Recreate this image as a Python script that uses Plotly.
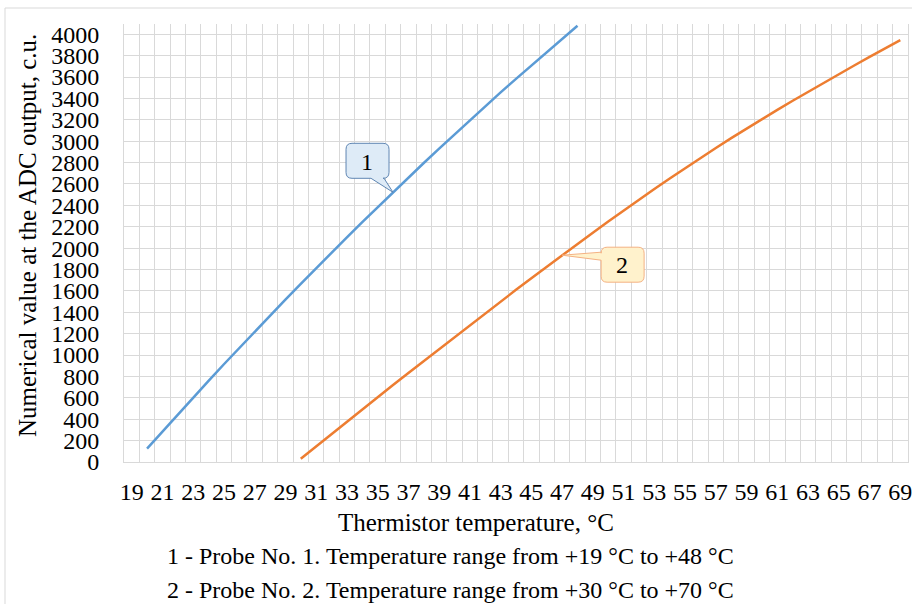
import plotly.graph_objects as go

# ---- data ----
temp_probe1 = list(range(20, 49))
adc_probe1 = [125, 286, 445, 602, 759, 914, 1067, 1219, 1370, 1519, 1666, 1813,
              1957, 2101, 2243, 2383, 2522, 2660, 2796, 2931, 3064, 3196, 3327,
              3456, 3583, 3709, 3834, 3957, 4079]
temp_probe2 = list(range(30, 70))
adc_probe2 = [31, 147, 263, 378, 492, 606, 720, 833, 945, 1057, 1169, 1280, 1390,
              1500, 1610, 1719, 1827, 1934, 2040, 2145, 2249, 2352, 2453, 2553,
              2652, 2749, 2844, 2937, 3029, 3119, 3207, 3293, 3378, 3462, 3545,
              3627, 3708, 3788, 3867, 3945]
categories = list(range(19, 70))
x_tick_labels = [str(c) for c in categories[::2]]
x_title = "Thermistor temperature, °C"
y_title = "Numerical value at the ADC output, c.u."
note_lines = ["1 - Probe No. 1. Temperature range from +19 °C to +48 °C",
              "2 - Probe No. 2. Temperature range from +30 °C to +70 °C"]

FONT = "Liberation Serif, Times New Roman, serif"
GRID = "#d9d9d9"
W, H = 912, 604
L, R, T, B = 124, 4, 24, 142
pw, ph = W - L - R, H - T - B


def px2paper(x, y):
    return (x - L) / pw, (H - B - y) / ph


fig = go.Figure()
fig.add_trace(go.Scatter(x=temp_probe1, y=adc_probe1, mode="lines",
                         line=dict(color="#5B9BD5", width=2.5), showlegend=False))
fig.add_trace(go.Scatter(x=temp_probe2, y=adc_probe2, mode="lines",
                         line=dict(color="#ED7D31", width=2.5), showlegend=False))

fig.update_xaxes(range=[categories[0] - 0.5, categories[-1] + 0.5],
                 tickmode="array", tickvals=categories[::2], ticktext=x_tick_labels,
                 showgrid=False, zeroline=False, ticks="", automargin=False,
                 showline=True, linecolor=GRID, linewidth=1,
                 ticklabelstandoff=8, ticklabeloverflow="allow",
                 minor=dict(tick0=categories[0] - 0.5, dtick=1, showgrid=True,
                            gridcolor=GRID, gridwidth=1),
                 tickfont=dict(family=FONT, size=24, color="black"))
fig.update_yaxes(range=[0, 4096], tickmode="linear", tick0=0, dtick=200,
                 showgrid=True, gridcolor=GRID, gridwidth=1, zeroline=False,
                 showline=True, mirror=True, linecolor=GRID, linewidth=1,
                 ticks="", ticklabelstandoff=19, automargin=False,
                 ticklabeloverflow="allow",
                 tickfont=dict(family=FONT, size=24, color="black"))

# chart outer border
bx0, by0 = px2paper(5, 8)
bx1, by1 = px2paper(915, 610)
fig.add_shape(type="rect", xref="paper", yref="paper", x0=bx0, y0=by1, x1=bx1, y1=by0,
              line=dict(color=GRID, width=1), layer="below")

# axis titles and notes
ax, ay = px2paper(476, 522)
fig.add_annotation(text=x_title, xref="paper", yref="paper", x=ax, y=ay,
                   xanchor="center", yanchor="middle",
                   showarrow=False, font=dict(family=FONT, size=25, color="black"))
yx, yy = px2paper(27, 236)
fig.add_annotation(text=y_title, xref="paper", yref="paper", x=yx, y=yy, textangle=-90,
                   xanchor="center", yanchor="middle",
                   showarrow=False, font=dict(family=FONT, size=25, color="black"))
for i, line in enumerate(note_lines):
    nx, ny = px2paper(165, 556 + 34 * i)
    fig.add_annotation(text=line, xref="paper", yref="paper", x=nx, y=ny,
                       xanchor="left", yanchor="middle", showarrow=False,
                       font=dict(family=FONT, size=24, color="black"))


def rounded_callout(Lx, Rx, Ty, By, r, wedge, side):
    # pixel offsets relative to the anchor point (y positive upward)
    p = [f"M {Lx + r},{Ty}", f"L {Rx - r},{Ty}", f"Q {Rx},{Ty} {Rx},{Ty - r}",
         f"L {Rx},{By + r}", f"Q {Rx},{By} {Rx - r},{By}"]
    if side == "bottom":
        a, b = wedge
        p += [f"L {b},{By}", "L 0,0", f"L {a},{By}"]
    p += [f"L {Lx + r},{By}", f"Q {Lx},{By} {Lx},{By + r}"]
    if side == "left":
        a, b = wedge
        p += [f"L {Lx},{a}", "L 0,0", f"L {Lx},{b}"]
    p += [f"L {Lx},{Ty - r}", f"Q {Lx},{Ty} {Lx + r},{Ty}", "Z"]
    return " ".join(p)


# callout 1 (on probe 1 curve)
i1 = temp_probe1.index(36)
fig.add_shape(type="path", xref="x", yref="y", xsizemode="pixel", ysizemode="pixel",
              xanchor=temp_probe1[i1], yanchor=adc_probe1[i1],
              path=rounded_callout(-47, -4, 49, 14, 6, (-22, -9), "bottom"),
              fillcolor="#DEEBF7", line=dict(color="#5F86B3", width=1))
fig.add_annotation(text="1", x=temp_probe1[i1], y=adc_probe1[i1], xshift=-26, yshift=30,
                   xanchor="center", yanchor="middle",
                   showarrow=False, font=dict(family=FONT, size=24, color="black"))

# callout 2 (on probe 2 curve)
i2 = temp_probe2.index(47)
fig.add_shape(type="path", xref="x", yref="y", xsizemode="pixel", ysizemode="pixel",
              xanchor=temp_probe2[i2], yanchor=adc_probe2[i2],
              path=rounded_callout(39, 82, 8, -27, 6, (-5, 3), "left"),
              fillcolor="#FFF2CC", line=dict(color="#F4B183", width=1))
fig.add_annotation(text="2", x=temp_probe2[i2], y=adc_probe2[i2], xshift=60, yshift=-10,
                   xanchor="center", yanchor="middle",
                   showarrow=False, font=dict(family=FONT, size=24, color="black"))

fig.update_layout(width=W, height=H, margin=dict(l=L, r=R, t=T, b=B, pad=0,
                                                 autoexpand=False),
                  paper_bgcolor="white", plot_bgcolor="white",
                  font=dict(family=FONT, color="black"))

fig.write_html("out.html", config={"displayModeBar": False},
               post_script="document.body.style.margin='0';"
                           "document.body.style.overflow='hidden';")
